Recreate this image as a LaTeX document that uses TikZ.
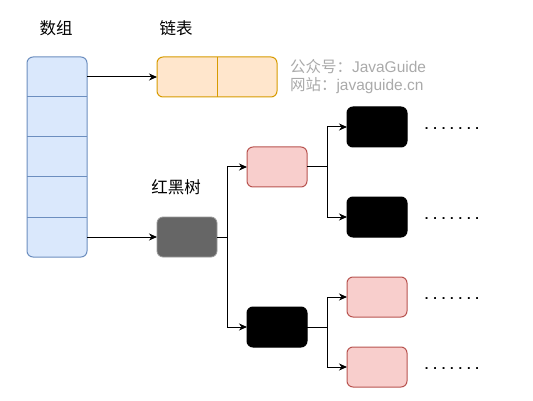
\documentclass[tikz,border=0pt]{standalone}
\usepackage{fontspec}
\setmainfont{Liberation Sans}
\newfontfamily\cjk{Noto Sans CJK SC}
\usetikzlibrary{arrows.meta}
\definecolor{blueF}{HTML}{DAE8FC}
\definecolor{blueD}{HTML}{6C8EBF}
\definecolor{orF}{HTML}{FFE6CC}
\definecolor{orD}{HTML}{D79B00}
\definecolor{pkF}{HTML}{F8CECC}
\definecolor{pkD}{HTML}{B85450}
\definecolor{darkF}{HTML}{666666}
\definecolor{darkD}{HTML}{9A9A9A}
\definecolor{wm}{HTML}{AAAAAA}
\begin{document}
\begin{tikzpicture}[x=1pt,y=-1pt,
  every node/.style={inner sep=0pt,outer sep=0pt},
  box/.style={minimum width=60pt,minimum height=40pt,rounded corners=6pt,line width=1pt},
  pinkbox/.style={box,fill=pkF,draw=pkD},
  blackbox/.style={box,fill=black,draw=black},
  cell/.style={minimum width=60pt,minimum height=40pt},
  lbl/.style={font=\cjk\fontsize{16.5}{18}\selectfont},
  dots/.style={font=\bfseries\fontsize{13}{16}\selectfont},
  arr/.style={line width=1pt,-{Stealth[length=8pt,width=7pt,inset=2.5pt]}}
]
\useasboundingbox (0,0) rectangle (533,401);

% labels
\node[lbl] (tArr) at (56,28) {数组};
\node[lbl] (tList) at (176,28) {链表};
\node[lbl] (tRB) at (176,187) {红黑树};

% watermark
\node[anchor=west,text=wm,font=\fontsize{15.5}{18}\selectfont,align=left] (wmk) at (290,77)
  {{\cjk 公众号：}JavaGuide\\{\cjk 网站：}javaguide.cn};

% array
\node[minimum width=60pt,minimum height=200pt,rounded corners=6pt,fill=blueF,draw=blueD,line width=1pt] (arr) at (57,157) {};
\node[cell] (c1) at (57,77) {};
\node[cell] (c2) at (57,117) {};
\node[cell] (c3) at (57,157) {};
\node[cell] (c4) at (57,197) {};
\node[cell] (c5) at (57,237) {};
\foreach \c in {c1,c2,c3,c4}
  \draw[blueD,line width=1pt] (\c.south west) -- (\c.south east);

% linked list
\node[minimum width=120pt,minimum height=40pt,rounded corners=6pt,fill=orF,draw=orD,line width=1pt] (list) at (217,77) {};
\draw[orD,line width=1pt] (list.north) -- (list.south);

% tree
\node[box,fill=darkF,draw=darkD,line width=0.8pt] (rb) at (187,237) {};
\node[pinkbox] (p1) at (277,167) {};
\node[blackbox] (b1) at (277,327) {};
\node[blackbox] (b11) at (377,127) {};
\node[blackbox] (b12) at (377,217) {};
\node[pinkbox] (p21) at (377,297) {};
\node[pinkbox] (p22) at (377,367) {};

% dots
\node[dots] (d1) at (452,128.5) {. . . . . . .};
\node[dots] (d2) at (452,218.5) {. . . . . . .};
\node[dots] (d3) at (452,298.5) {. . . . . . .};
\node[dots] (d4) at (452,368.5) {. . . . . . .};

% connectors
\draw[arr] (c1.east) -- (list.west);
\draw[arr] (c5.east) -- (rb.west);
\draw[arr] (rb.east) -- ([xshift=10pt]rb.east) |- (p1.west);
\draw[arr] (rb.east) -- ([xshift=10pt]rb.east) |- (b1.west);
\draw[arr] (p1.east) -- ([xshift=20pt]p1.east) |- (b11.west);
\draw[arr] (p1.east) -- ([xshift=20pt]p1.east) |- (b12.west);
\draw[arr] (b1.east) -- ([xshift=20pt]b1.east) |- (p21.west);
\draw[arr] (b1.east) -- ([xshift=20pt]b1.east) |- (p22.west);
\end{tikzpicture}
\end{document}
